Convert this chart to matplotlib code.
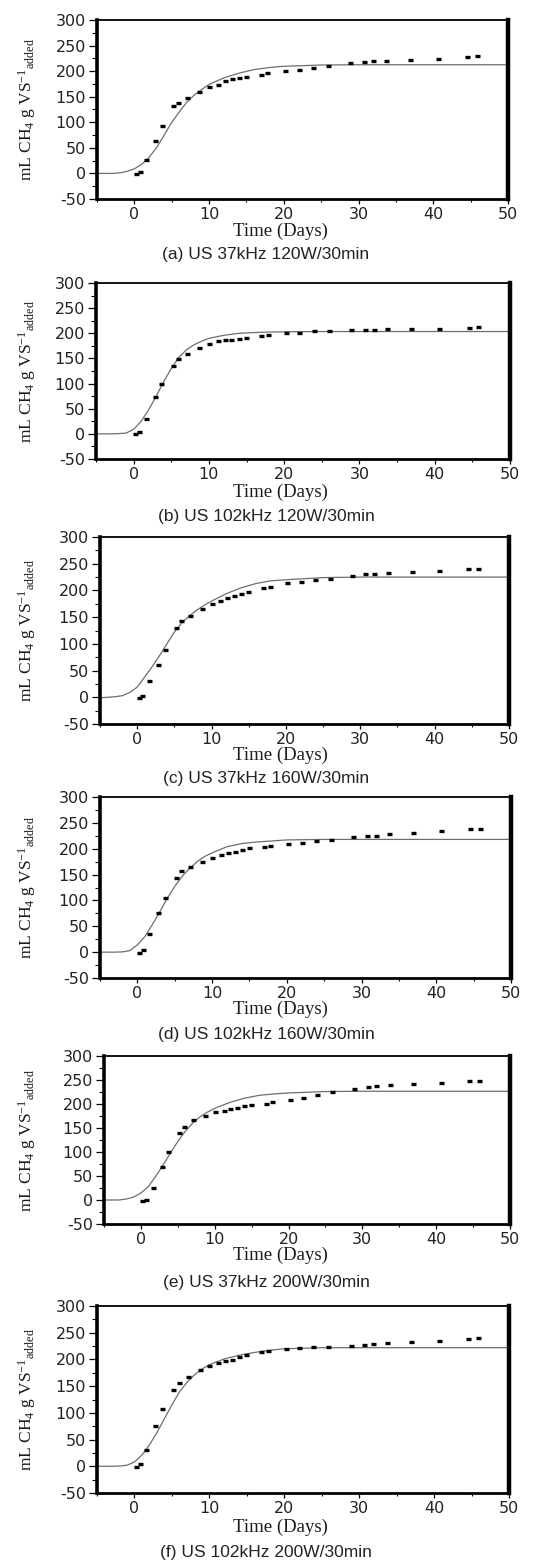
import numpy as np
import matplotlib
matplotlib.use("Agg")
import matplotlib.pyplot as plt
from matplotlib.ticker import MultipleLocator

plt.rcParams['axes.unicode_minus'] = False
plt.rcParams['mathtext.fontset'] = 'custom'
plt.rcParams['mathtext.rm'] = 'Liberation Serif'
plt.rcParams['mathtext.it'] = 'Liberation Serif:italic'

# sampling days (same for every run)
days = [0.2, 0.7, 1.6, 2.8, 3.7, 5.2, 5.9, 7.1, 8.7, 10.0, 11.2, 12.1, 13.0, 14.0, 14.9,
        16.9, 17.8, 20.2, 22.0, 23.9, 25.9, 28.9, 30.7, 31.9, 33.7, 36.9, 40.6, 44.5, 45.8]

# measured cumulative methane (mL CH4 / g VS added)
meas_a = [-2, 2, 26, 64, 93, 132, 138, 148, 160, 169, 173, 180, 185, 187, 189,
          193, 197, 200, 202, 207, 210, 215, 218, 220, 220, 222, 224, 228, 230]
meas_b = [-1, 4, 30, 73, 100, 135, 149, 159, 170, 178, 184, 186, 186, 188, 190,
          194, 196, 201, 201, 204, 204, 207, 207, 207, 209, 209, 209, 211, 213]
meas_c = [-2, 2, 31, 60, 89, 130, 143, 153, 165, 174, 180, 186, 189, 193, 197,
          204, 206, 213, 216, 219, 221, 227, 231, 231, 233, 235, 237, 241, 241]
meas_d = [-1, 4, 35, 75, 104, 143, 156, 164, 175, 183, 187, 192, 193, 197, 201,
          203, 205, 209, 211, 215, 216, 222, 225, 225, 228, 230, 234, 238, 238]
meas_e = [-2, 1, 26, 68, 99, 140, 153, 166, 175, 183, 185, 190, 192, 196, 198,
          200, 204, 208, 213, 219, 224, 231, 236, 237, 239, 241, 243, 247, 247]
meas_f = [-2, 3.5, 31, 76, 107, 143, 155, 167, 180, 187, 193, 197, 199, 204, 208,
          213, 216, 220, 221, 223, 223, 225, 227, 229, 231, 233, 235, 239, 241]

# fitted model curves
fit_t = [-5, -3, -2, -1, 0, 1, 2, 3, 4, 5, 6, 7, 8, 9, 10, 12, 14, 16, 18, 20, 25, 30, 50]
fit_a = [0, 0, 1, 4, 9, 18, 32, 51, 75, 100, 120, 139, 153, 164, 174, 187, 196, 203, 207, 209.5, 212, 212.5, 212.5]
fit_b = [0, 0, 0.5, 1.5, 9, 25, 48, 75, 104, 130, 152, 167, 177, 184, 190, 196, 200, 201.5, 202.5, 203, 203.5, 203.5, 203.5]
fit_c = [-1, 1, 3, 9, 19, 38, 57, 78, 100, 122, 139, 152, 163, 172, 180, 194, 205, 213, 218, 220, 224, 225, 225]
fit_d = [0, 0, 0.5, 3, 14, 30, 53, 78, 104, 127, 147, 162, 175, 185, 192, 204, 210, 213, 215, 217, 218, 218, 218]
fit_e = [0, 0, 2, 6, 14.5, 28, 49, 73, 98, 122, 143, 160, 173, 183, 191, 203, 212, 218, 221, 223, 226, 226.5, 226.5]
fit_f = [0, 0, 0.5, 2, 8, 21, 40, 63, 89, 115, 139, 157, 171, 182, 190, 201, 208, 213, 217, 220, 222, 222, 222]

captions = ["(a) US 37kHz 120W/30min", "(b) US 102kHz 120W/30min",
            "(c) US 37kHz 160W/30min", "(d) US 102kHz 160W/30min",
            "(e) US 37kHz 200W/30min", "(f) US 102kHz 200W/30min"]

measured = [meas_a, meas_b, meas_c, meas_d, meas_e, meas_f]
fitted = [fit_a, fit_b, fit_c, fit_d, fit_e, fit_f]

W, H = 547, 1562
# axes boxes in pixels: left, right, top, bottom
boxes = [(97, 508, 20, 199), (96, 510, 283, 459), (100, 509, 537, 724),
         (100, 511, 797, 978), (104, 510, 1056, 1224), (97, 509, 1306, 1493)]
xlabel_y = [231, 492, 755, 1009, 1255, 1527]
caption_y = [254, 517, 778, 1035, 1283, 1553]

fig = plt.figure(figsize=(W / 100, H / 100), dpi=100)

for i in range(6):
    l, r, t, b = boxes[i]
    ax = fig.add_axes([l / W, 1 - b / H, (r - l) / W, (b - t) / H])
    ax.plot(fit_t, fitted[i], color='#6e6e6e', lw=0.9, zorder=2)
    ax.plot(days, measured[i], ls='none', marker='_', ms=3.6, mew=2.4,
            color='black', zorder=3)

    ax.set_xlim(-5, 50)
    ax.set_ylim(-50, 300)
    ax.xaxis.set_major_locator(MultipleLocator(10))
    ax.xaxis.set_minor_locator(MultipleLocator(5))
    ax.yaxis.set_major_locator(MultipleLocator(50))
    ax.yaxis.set_minor_locator(MultipleLocator(25))
    ax.tick_params(axis='y', which='major', length=6, width=0.9, pad=2, labelsize=11.5)
    ax.tick_params(axis='y', which='minor', length=3.5, width=0.8)
    ax.tick_params(axis='x', which='major', length=3.5, width=0.9, pad=2.5, labelsize=11.5)
    ax.tick_params(axis='x', which='minor', length=2.5, width=0.8)
    for lab in ax.get_xticklabels() + ax.get_yticklabels():
        lab.set_color('#222222')

    ax.spines['left'].set_linewidth(2.6)
    ax.spines['right'].set_linewidth(3.2)
    ax.spines['top'].set_linewidth(1.3)
    ax.spines['bottom'].set_linewidth(2.0)

    ax.set_ylabel(r"mL CH$_4$ g VS$^{-1}{}_{\mathrm{added}}$", family='Liberation Serif',
                  fontsize=12.5, color='#1a1a1a')
    ax.yaxis.set_label_coords((27 - l) / (r - l), 0.5)
    ax.yaxis.label.set_verticalalignment('center')
    ax.set_xlabel("Time (Days)", family='Liberation Serif', fontsize=13.5,
                  color='#1a1a1a')
    ax.xaxis.set_label_coords((280 - l) / (r - l), -(xlabel_y[i] - b) / (b - t))
    ax.xaxis.label.set_verticalalignment('center')

    fig.text(266 / W, 1 - caption_y[i] / H, captions[i], family='Liberation Sans',
             fontsize=12.5, color='#222222', ha='center', va='center')

fig.savefig("out.png", dpi=100)
